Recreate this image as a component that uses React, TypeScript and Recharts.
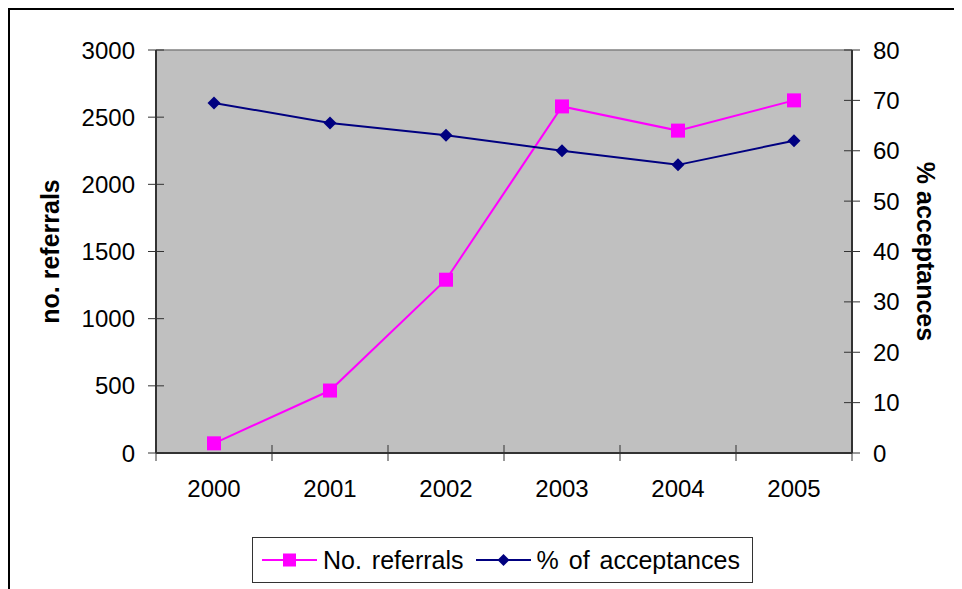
import { LineChart, Line, XAxis, YAxis, CartesianGrid, Legend, ReferenceLine } from 'recharts';

const years = ['2000', '2001', '2002', '2003', '2004', '2005'];
const referrals = [72, 465, 1290, 2580, 2400, 2625];
const acceptances = [69.5, 65.5, 63.1, 60.0, 57.2, 62.0];
const referralTicks = [0, 500, 1000, 1500, 2000, 2500, 3000];
const acceptanceTicks = [0, 10, 20, 30, 40, 50, 60, 70, 80];
const legendOrder = ['referrals', 'acceptances'];

const data = years.map((year, i) => ({
  year,
  referrals: referrals[i],
  acceptances: acceptances[i],
}));

const FONT = '"Liberation Sans", Arial, Helvetica, sans-serif';
const AXIS = '#333';
const PINK = '#FF00FF';
const NAVY = '#000080';
const TICK_SIZE = 8;
const Y_TICK_MARGIN = 13;
const X_TICK_MARGIN = 19;

const tickText = { fontSize: 24, fontFamily: FONT, fill: '#000' };
const titleText = { fontSize: 25, fontWeight: 'bold', fontFamily: FONT, fill: '#000', textAnchor: 'middle' as const };

// ticks cross the axis line, Excel style
function LeftTick({ x, y, payload }: any) {
  const axisX = x + TICK_SIZE + Y_TICK_MARGIN;
  return (
    <g>
      <line x1={axisX - TICK_SIZE} x2={axisX + TICK_SIZE} y1={y} y2={y} stroke={AXIS} />
      <text x={x} y={y} dy="0.355em" textAnchor="end" {...tickText}>
        {payload.value}
      </text>
    </g>
  );
}

function RightTick({ x, y, payload }: any) {
  const axisX = x - TICK_SIZE - Y_TICK_MARGIN;
  return (
    <g>
      <line x1={axisX - TICK_SIZE} x2={axisX + TICK_SIZE} y1={y} y2={y} stroke={AXIS} />
      <text x={x} y={y} dy="0.355em" textAnchor="start" {...tickText}>
        {payload.value}
      </text>
    </g>
  );
}

// tick marks sit between categories, labels at the band centres
function YearTick({ x, y, payload, index }: any) {
  const axisY = y - TICK_SIZE - X_TICK_MARGIN;
  const half = payload.offset ?? 0;
  return (
    <g>
      <line x1={x - half} x2={x - half} y1={axisY - TICK_SIZE} y2={axisY + TICK_SIZE} stroke={AXIS} />
      {index === years.length - 1 && (
        <line x1={x + half} x2={x + half} y1={axisY - TICK_SIZE} y2={axisY + TICK_SIZE} stroke={AXIS} />
      )}
      <text x={x} y={y} dy="0.71em" textAnchor="middle" {...tickText}>
        {payload.value}
      </text>
    </g>
  );
}

function SquareDot({ cx, cy, index }: any) {
  return <rect key={`sq-${index}`} x={cx - 7} y={cy - 7} width={14} height={14} fill={PINK} />;
}

function DiamondDot({ cx, cy, index }: any) {
  return (
    <polygon
      key={`dm-${index}`}
      points={`${cx},${cy - 6.5} ${cx + 6.5},${cy} ${cx},${cy + 6.5} ${cx - 6.5},${cy}`}
      fill={NAVY}
    />
  );
}

function LegendBox({ payload }: any) {
  const items = [...(payload || [])].sort(
    (a: any, b: any) => legendOrder.indexOf(a.dataKey) - legendOrder.indexOf(b.dataKey),
  );
  return (
    <div
      style={{
        border: '1px solid #333',
        background: '#fff',
        display: 'flex',
        alignItems: 'center',
        height: 44,
        padding: '0 12px 0 9px',
        fontFamily: FONT,
        fontSize: 25,
        wordSpacing: 3,
        color: '#000',
        whiteSpace: 'nowrap',
      }}
    >
      {items.map((entry: any, i: number) => (
        <div key={entry.value} style={{ display: 'flex', alignItems: 'center', marginLeft: i ? 12 : 0 }}>
          <svg width={55} height={16}>
            <line x1={0} x2={55} y1={8} y2={8} stroke={entry.color} strokeWidth={2} />
            {entry.dataKey === 'referrals' ? (
              <rect x={21} y={1.5} width={13} height={13} fill={entry.color} />
            ) : (
              <polygon points="27.5,2 33.5,8 27.5,14 21.5,8" fill={entry.color} />
            )}
          </svg>
          <span style={{ marginLeft: 6 }}>{entry.value}</span>
        </div>
      ))}
    </div>
  );
}

export default function App() {
  return (
    <div style={{ width: 960, height: 600, border: '2px solid #000', position: 'relative' }}>
      <style>{'html, body { overflow: hidden; }'}</style>
      <LineChart width={940} height={590} data={data} margin={{ top: 40, right: 0, left: 0, bottom: 87 }}>
        <CartesianGrid horizontal={false} vertical={false} fill="#C0C0C0" />
        <XAxis
          dataKey="year"
          scale="band"
          height={60}
          interval={0}
          tickSize={TICK_SIZE}
          tickMargin={X_TICK_MARGIN}
          tickLine={false}
          axisLine={{ stroke: AXIS, strokeWidth: 2 }}
          tick={<YearTick />}
        />
        <YAxis
          yAxisId="left"
          width={146}
          domain={[0, 3000]}
          ticks={referralTicks}
          interval={0}
          tickSize={TICK_SIZE}
          tickMargin={Y_TICK_MARGIN}
          tickLine={false}
          axisLine={{ stroke: AXIS, strokeWidth: 2 }}
          tick={<LeftTick />}
          label={{ value: 'no. referrals', angle: -90, position: 'insideLeft', offset: 40, style: titleText }}
        />
        <YAxis
          yAxisId="right"
          orientation="right"
          width={98}
          domain={[0, 80]}
          ticks={acceptanceTicks}
          interval={0}
          tickSize={TICK_SIZE}
          tickMargin={Y_TICK_MARGIN}
          tickLine={false}
          axisLine={{ stroke: AXIS, strokeWidth: 2 }}
          tick={<RightTick />}
          label={{ value: '% acceptances', angle: 90, position: 'insideRight', offset: 24, style: titleText }}
        />
        <ReferenceLine yAxisId="left" y={3000} stroke="#808080" strokeWidth={1.5} />
        <Legend
          layout="horizontal"
          verticalAlign="middle"
          align="center"
          content={<LegendBox />}
          wrapperStyle={{ top: 527, left: 242, width: 'auto', height: 'auto' }}
        />
        <Line
          yAxisId="left"
          dataKey="referrals"
          name="No. referrals"
          stroke={PINK}
          strokeWidth={2}
          dot={SquareDot}
          activeDot={false}
          isAnimationActive={false}
        />
        <Line
          yAxisId="right"
          dataKey="acceptances"
          name="% of acceptances"
          stroke={NAVY}
          strokeWidth={2}
          dot={DiamondDot}
          activeDot={false}
          isAnimationActive={false}
        />
      </LineChart>
    </div>
  );
}
